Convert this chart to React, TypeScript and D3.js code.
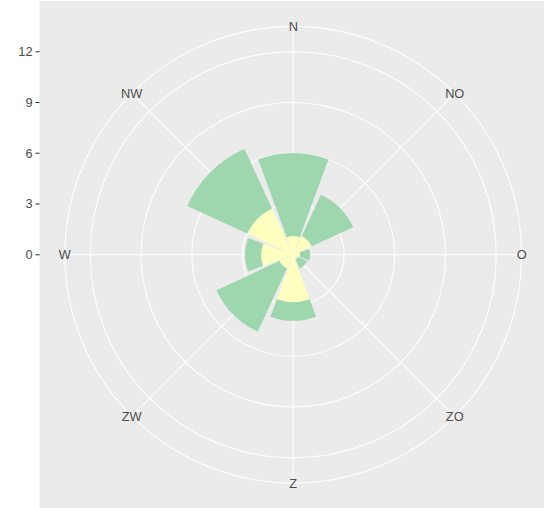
import React from "react";
import * as d3 from "d3";

const directions = ["N", "NO", "O", "ZO", "Z", "ZW", "W", "NW"];
const lowSpeed = [1.1, 1.2, 0.4, 0.3, 2.8, 0.9, 1.9, 3.0];
const highSpeed = [4.9, 2.7, 0.6, 0.6, 1.1, 4.1, 0.95, 3.9];
const rTicks = [0, 3, 6, 9, 12];
const rLimits = [0, 12];

const W = 544;
const H = 508;
const panelX = 39.5;
const panelY = 1;
const panelSize = 507.5;
const cx = panelX + panelSize / 2;
const cy = panelY + panelSize / 2;

export default function App() {
  const r = d3.scaleLinear().domain(rLimits).range([0, 0.4 * panelSize]);
  const outerR = 0.45 * panelSize;
  const theta = d3
    .scaleBand<string>()
    .domain(directions)
    .range([-Math.PI / 8, 2 * Math.PI - Math.PI / 8])
    .paddingInner(0.1)
    .paddingOuter(0.05);
  const step = (2 * Math.PI) / directions.length;
  const arc = d3.arc<any>();
  const font = "'Liberation Sans', Arial, sans-serif";
  const textCol = "#4D4D4D";
  const fs = 12.8;

  const stacks = directions.map((d, i) => {
    const start = theta(d) as number;
    const end = start + theta.bandwidth();
    const y0 = 0;
    const y1 = lowSpeed[i];
    const y2 = lowSpeed[i] + highSpeed[i];
    return { d, start, end, y0, y1, y2 };
  });

  return (
    <svg width={W} height={H} style={{ position: "absolute", left: 0, top: 0 }}>
      <rect x={0} y={0} width={W} height={H} fill="#ffffff" />
      <rect x={panelX} y={panelY} width={panelSize} height={panelSize} fill="#EBEBEB" />
      {/* spokes */}
      {directions.map((d, i) => {
        const a = i * step;
        return (
          <line
            key={"s" + d}
            x1={cx}
            y1={cy}
            x2={cx + outerR * Math.sin(a)}
            y2={cy - outerR * Math.cos(a)}
            stroke="#ffffff"
            strokeWidth={1.07}
          />
        );
      })}
      {/* circles */}
      {rTicks.map((t) => (
        <circle key={"c" + t} cx={cx} cy={cy} r={r(t)} fill="none" stroke="#ffffff" strokeWidth={1.07} />
      ))}
      <circle cx={cx} cy={cy} r={outerR} fill="none" stroke="#ffffff" strokeWidth={1.07} />
      {/* bars */}
      <g transform={`translate(${cx},${cy})`}>
        {stacks.map((s) => (
          <g key={"b" + s.d}>
            <path
              d={arc({ innerRadius: r(s.y0), outerRadius: r(s.y1), startAngle: s.start, endAngle: s.end }) as string}
              fill="#FFFFBF"
            />
            <path
              d={arc({ innerRadius: r(s.y1), outerRadius: r(s.y2), startAngle: s.start, endAngle: s.end }) as string}
              fill="#9ED6AE"
            />
          </g>
        ))}
      </g>
      {/* theta labels */}
      {directions.map((d, i) => {
        const a = i * step;
        return (
          <text
            key={"t" + d}
            x={cx + outerR * Math.sin(a)}
            y={cy - outerR * Math.cos(a)}
            dy="0.35em"
            textAnchor="middle"
            fontFamily={font}
            fontSize={fs}
            fill={textCol}
          >
            {d}
          </text>
        );
      })}
      {/* r axis */}
      {rTicks.map((t) => (
        <g key={"y" + t}>
          <line x1={panelX - 4} x2={panelX} y1={cy - r(t)} y2={cy - r(t)} stroke="#333333" strokeWidth={1.07} />
          <text
            x={panelX - 7}
            y={cy - r(t)}
            dy="0.35em"
            textAnchor="end"
            fontFamily={font}
            fontSize={fs}
            fill={textCol}
          >
            {t}
          </text>
        </g>
      ))}
    </svg>
  );
}
